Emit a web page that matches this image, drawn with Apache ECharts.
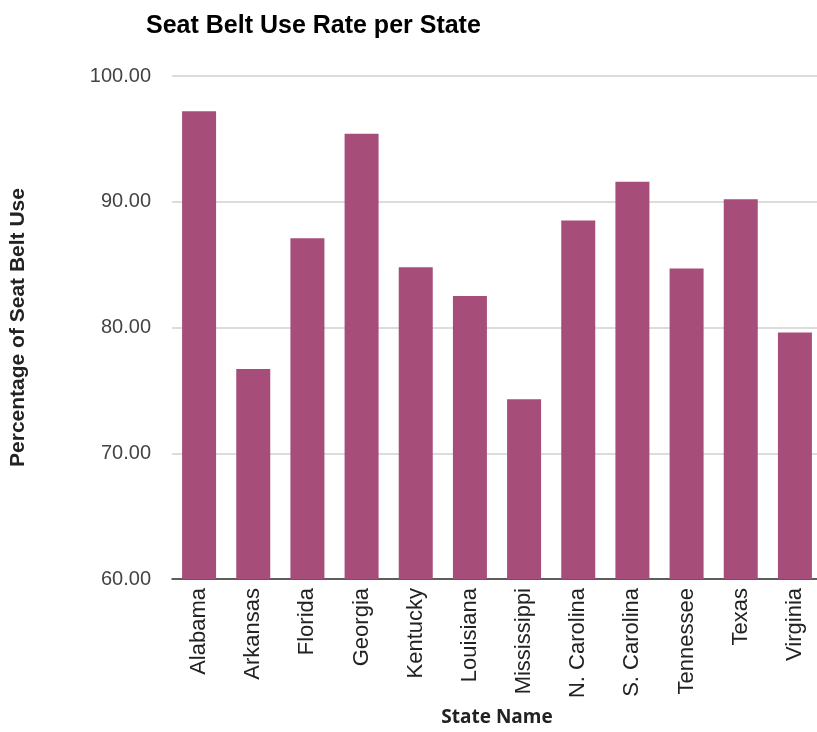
<!DOCTYPE html>
<html>
<head>
<meta charset="utf-8">
<script src="https://cdn.jsdelivr.net/npm/echarts@6/dist/echarts.min.js"></script>
<style>
  html, body { margin: 0; padding: 0; background: #fff; overflow: hidden; }
  /* the plot runs slightly past the right edge of the window */
  #chart { width: 840px; height: 732px; }
</style>
</head>
<body>
<div id="chart"></div>
<script>
// State-level seat belt use rates (percent)
const states = ['Alabama', 'Arkansas', 'Florida', 'Georgia', 'Kentucky', 'Louisiana',
  'Mississippi', 'N. Carolina', 'S. Carolina', 'Tennessee', 'Texas', 'Virginia'];
const useRates = [97.2, 76.7, 87.1, 95.4, 84.8, 82.5, 74.3, 88.5, 91.6, 84.7, 90.2, 79.6];
const yTicks = [60, 70, 80, 90, 100];

const chart = echarts.init(document.getElementById('chart'), null, { renderer: 'canvas' });

chart.setOption({
  animation: false,
  backgroundColor: '#ffffff',
  title: {
    text: 'Seat Belt Use Rate per State',
    left: 141,
    top: 9,
    textStyle: {
      fontFamily: 'Liberation Sans, Arial, sans-serif',
      fontSize: 25,
      fontWeight: 'bold',
      color: '#000000'
    }
  },
  grid: { left: 162, top: 76, width: 660, height: 506 },
  xAxis: {
    type: 'category',
    data: states,
    name: 'State Name',
    nameLocation: 'middle',
    nameGap: 129,
    nameTextStyle: {
      fontFamily: 'Open Sans, sans-serif',
      fontWeight: 'bold',
      fontSize: 19,
      color: '#222222',
      verticalAlign: 'top'
    },
    axisLine: { lineStyle: { color: '#333333', width: 1.5 } },
    axisTick: { show: false },
    axisLabel: {
      rotate: 90,
      margin: 9,
      fontFamily: 'Liberation Sans, Arial, sans-serif',
      fontSize: 22,
      color: '#222222'
    }
  },
  yAxis: {
    type: 'value',
    min: yTicks[0],
    max: yTicks[yTicks.length - 1],
    interval: 10,
    name: 'Percentage of Seat Belt Use',
    nameLocation: 'middle',
    nameGap: 143,
    nameRotate: 90,
    nameTextStyle: {
      fontFamily: 'Liberation Sans, Arial, sans-serif',
      fontWeight: 'bold',
      fontSize: 21,
      color: '#222222'
    },
    axisLine: { show: false },
    axisTick: { show: false },
    axisLabel: {
      margin: 21,
      fontFamily: 'Liberation Sans, Arial, sans-serif',
      fontSize: 20,
      color: '#444444',
      formatter: v => v.toFixed(2)
    },
    splitLine: { lineStyle: { color: '#d0d0d0', width: 1.5 } }
  },
  series: [{
    type: 'bar',
    data: useRates,
    barWidth: 34,
    itemStyle: { color: '#a64d79' }
  }]
});
</script>
</body>
</html>
